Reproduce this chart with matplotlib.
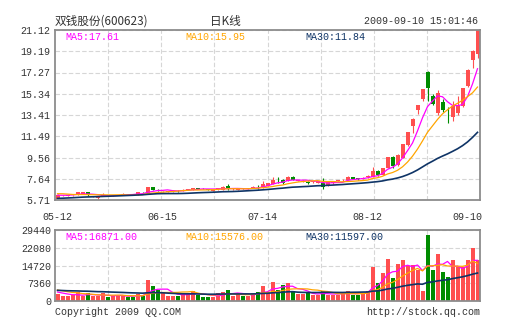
import matplotlib
matplotlib.use("Agg")

import matplotlib.pyplot as plt
import numpy as np
import pandas as pd

# 双钱股份(600623) 日K线, 85 trading days
opens = [5.82, 6.12, 6.10, 6.12, 6.22, 6.28, 6.42, 6.00, 5.92, 6.08,
         6.16, 6.12, 6.14, 6.18, 6.26, 6.24, 6.22, 6.38, 6.31, 6.89,
         6.66, 6.44, 6.48, 6.50, 6.56, 6.58, 6.62, 6.62, 6.80, 6.74,
         6.70, 6.56, 6.70, 6.62, 6.98, 6.68, 6.66, 6.74, 6.72, 6.78,
         6.92, 6.86, 7.00, 7.16, 7.56, 7.52, 7.43, 7.83, 7.46, 7.40,
         7.37, 7.30, 7.24, 7.28, 6.98, 7.22, 7.43, 7.48, 7.52, 7.76,
         7.70, 7.64, 7.76, 7.80, 8.37, 8.01, 8.61, 9.58, 8.85, 9.52,
         10.73, 12.45, 13.90, 14.90, 17.34, 15.11, 13.60, 14.59, 13.55, 13.20,
         13.60, 14.20, 16.01, 18.43, 18.95]
highs = [6.22, 6.18, 6.16, 6.20, 6.45, 6.46, 6.44, 6.06, 6.02, 6.37,
         6.18, 6.18, 6.20, 6.30, 6.28, 6.26, 6.42, 6.40, 6.90, 6.92,
         6.74, 6.52, 6.56, 6.58, 6.58, 6.68, 6.70, 6.84, 6.82, 6.83,
         6.74, 6.70, 6.80, 6.94, 7.16, 6.76, 6.74, 6.76, 6.80, 6.94,
         7.06, 7.43, 7.24, 7.83, 7.83, 7.58, 7.92, 7.86, 7.56, 7.48,
         7.40, 7.44, 7.44, 7.67, 7.32, 7.40, 7.56, 7.58, 7.92, 7.80,
         7.74, 7.82, 7.98, 8.67, 8.46, 8.64, 9.60, 9.67, 9.85, 10.80,
         11.90, 13.10, 14.32, 15.80, 17.36, 15.32, 15.71, 14.87, 14.14, 14.71,
         15.11, 15.90, 17.55, 19.30, 21.12]
lows = [5.80, 6.05, 6.04, 6.08, 6.20, 6.26, 6.10, 5.96, 5.78, 6.06,
        6.12, 6.10, 6.12, 6.16, 6.20, 6.18, 6.20, 6.28, 6.30, 6.60,
        6.56, 6.40, 6.46, 6.48, 6.46, 6.56, 6.60, 6.60, 6.70, 6.70,
        6.60, 6.54, 6.66, 6.60, 6.66, 6.64, 6.62, 6.68, 6.70, 6.76,
        6.72, 6.84, 6.98, 7.14, 7.22, 7.20, 7.40, 7.48, 7.44, 7.36,
        7.18, 7.28, 7.22, 6.71, 6.96, 7.20, 7.40, 7.44, 7.50, 7.62,
        7.56, 7.60, 7.70, 7.76, 7.86, 7.98, 8.58, 8.61, 8.80, 9.50,
        10.58, 11.78, 13.51, 14.65, 14.65, 14.30, 13.39, 13.69, 12.72, 12.90,
        13.39, 14.15, 15.95, 17.68, 18.60]
closes = [6.20, 6.16, 6.14, 6.18, 6.42, 6.42, 6.12, 6.04, 6.00, 6.14,
          6.14, 6.16, 6.18, 6.26, 6.22, 6.20, 6.40, 6.32, 6.89, 6.62,
          6.60, 6.48, 6.54, 6.56, 6.50, 6.66, 6.68, 6.76, 6.74, 6.72,
          6.64, 6.68, 6.77, 6.92, 6.68, 6.72, 6.70, 6.70, 6.78, 6.92,
          6.90, 7.16, 7.22, 7.52, 7.52, 7.22, 7.83, 7.52, 7.52, 7.44,
          7.22, 7.42, 7.42, 6.92, 7.30, 7.30, 7.52, 7.50, 7.80, 7.64,
          7.58, 7.72, 7.86, 8.37, 8.01, 8.61, 9.58, 8.82, 9.82, 10.79,
          11.87, 13.08, 14.29, 15.77, 15.86, 14.41, 15.41, 13.90, 13.51, 14.20,
          14.31, 15.86, 17.53, 19.25, 21.12]
volumes = [2900, 1900, 1900, 2600, 3700, 1900, 3200, 1900, 1900, 3200,
           1700, 2200, 2200, 2200, 1700, 1700, 2900, 2200, 8700, 6100,
           4400, 3200, 2200, 2200, 2200, 3200, 3200, 4100, 2600, 1700,
           1700, 1700, 3200, 3700, 4600, 2200, 2900, 2200, 2200, 3200,
           3700, 6200, 3900, 8000, 4400, 6600, 7600, 4100, 3000, 3000,
           3200, 2600, 2600, 4100, 2600, 2600, 2600, 3400, 4100, 2600,
           2600, 3400, 4250, 14200, 7600, 11700, 17500, 9500, 15500, 17000,
           14600, 14800, 12700, 4000, 27500, 13000, 19500, 12000, 10000, 16905,
           14000, 14200, 17200, 21800, 17155]

# days before the window, only used for the moving averages
prev_closes = [5.55, 5.52, 5.58, 5.60, 5.57, 5.62, 5.65, 5.60, 5.58, 5.63,
               5.66, 5.70, 5.68, 5.64, 5.66, 5.70, 5.72, 5.68, 5.71, 5.75,
               6.20, 6.45, 6.52, 6.48, 6.40, 6.22, 6.10, 6.05, 6.18]
prev_volumes = [4200, 4600, 3900, 4800, 4400, 4100, 4500, 4700, 4000, 4300,
                4600, 4200, 4400, 4500, 4100, 4300, 4600, 4200, 4400, 4200,
                5200, 5800, 5600, 5100, 5250, 4100, 3800, 4050, 3800]

date_labels = ["05-12", "06-15", "07-14", "08-12", "09-10"]
date_idx = [0, 21, 41, 62, 82]
price_ticks = ["5.71", "7.64", "9.56", "11.49", "13.41", "15.34", "17.27", "19.19", "21.12"]
vol_ticks = [0, 7360, 14720, 22080, 29440]

W, H = 505, 330
RED, GREEN = "#FF4F4F", "#008C00"
C5, C10, C30 = "#FF00FF", "#FFA500", "#0F3466"
MONO = "Liberation Mono"
CJK = ["Noto Sans CJK SC", "DejaVu Sans"]
FS = 7.2


def px(x, y):
    return x / W, 1 - y / H


def ma(prev, cur, n):
    s = pd.Series(prev + cur, dtype=float).rolling(n).mean()
    return s.iloc[len(prev):].to_numpy()


n = len(closes)
x = np.arange(n)
o, h, l, c = map(np.array, (opens, highs, lows, closes))
up = c >= o
cols = np.where(up, RED, GREEN)

fig = plt.figure(figsize=(W / 100, H / 100), dpi=100)
ax = fig.add_axes([55 / W, 1 - 200 / H, 425 / W, 170 / H])
axv = fig.add_axes([55 / W, 1 - 301 / H, 425 / W, 71 / H])

grid_x = -0.5 + n * np.arange(1, 8) / 8
for a in (ax, axv):
    a.set_xlim(-0.5, n - 0.5)
    a.set_xticks(grid_x, minor=True)
    a.grid(which="minor", axis="x", color="#D6D6D6", lw=0.8, ls=(0, (4, 2)))
    a.grid(which="major", axis="y", color="#D6D6D6", lw=0.8, ls=(0, (4, 2)))
    a.set_axisbelow(True)
    a.tick_params(which="both", length=0, labelsize=FS, colors="#333333")
    for sp in a.spines.values():
        sp.set_color("#8C8C8C")
        sp.set_linewidth(1.3)
    for t in a.get_xticklabels() + a.get_yticklabels():
        t.set_family(MONO)

# candles
ax.vlines(x, l, h, colors=cols, lw=0.8)
body = np.maximum(np.abs(c - o), 0.03)
ax.bar(x, body, bottom=np.minimum(o, c), width=0.8, color=cols, lw=0)
ma5, ma10, ma30 = (ma(prev_closes, closes, k) for k in (5, 10, 30))
ax.plot(x, ma5, color=C5, lw=0.9)
ax.plot(x, ma10, color=C10, lw=0.9)
ax.plot(x, ma30, color=C30, lw=1.2)

lo, hi = float(price_ticks[0]), float(price_ticks[-1])
ax.set_ylim(lo, hi)
ax.set_yticks(np.linspace(lo, hi, len(price_ticks)))
ax.set_yticklabels(price_ticks, family=MONO)
ax.set_xticks(date_idx)
ax.set_xticklabels(date_labels, family=MONO)
ax.tick_params(axis="x", pad=9)
ax.tick_params(axis="y", pad=3.5)

# volume
axv.bar(x, volumes, width=0.8, color=cols, lw=0)
vma5, vma10, vma30 = (ma(prev_volumes, volumes, k) for k in (5, 10, 30))
axv.plot(x, vma5, color=C5, lw=0.9)
axv.plot(x, vma10, color=C10, lw=0.9)
axv.plot(x, vma30, color=C30, lw=1.2)
axv.set_ylim(vol_ticks[0], vol_ticks[-1])
axv.set_yticks(vol_ticks)
axv.set_yticklabels([str(v) for v in vol_ticks], family=MONO)
axv.set_xticks([])
axv.tick_params(axis="y", pad=2.5)

# texts
fig.text(*px(55, 21.5), "双钱股份(600623)", family=CJK, fontsize=8.4,
         color="#333333", va="center")
fig.text(*px(225, 21.5), "日K线", family=CJK, fontsize=8.4,
         color="#333333", va="center", ha="center")
fig.text(*px(478, 21.5), "2009-09-10 15:01:46", family=MONO, fontsize=FS,
         color="#333333", va="center", ha="right")

for xp, name, val, col in [(65, "MA5", ma5[-1], C5), (185, "MA10", ma10[-1], C10),
                           (305, "MA30", ma30[-1], C30)]:
    fig.text(*px(xp, 36.5), f"{name}:{val:.2f}", family=MONO, fontsize=FS,
             color=col, va="center")
for xp, name, val, col in [(65, "MA5", vma5[-1], C5), (185, "MA10", vma10[-1], C10),
                           (305, "MA30", vma30[-1], C30)]:
    fig.text(*px(xp, 236.7), f"{name}:{round(val):.2f}", family=MONO, fontsize=FS,
             color=col, va="center")

fig.text(*px(55, 311.7), "Copyright 2009 QQ.COM", family=MONO, fontsize=FS,
         color="#333333", va="center")
fig.text(*px(480, 311.7), "http://stock.qq.com", family=MONO, fontsize=FS,
         color="#333333", va="center", ha="right")

fig.savefig("out.png", dpi=100, facecolor="white")
